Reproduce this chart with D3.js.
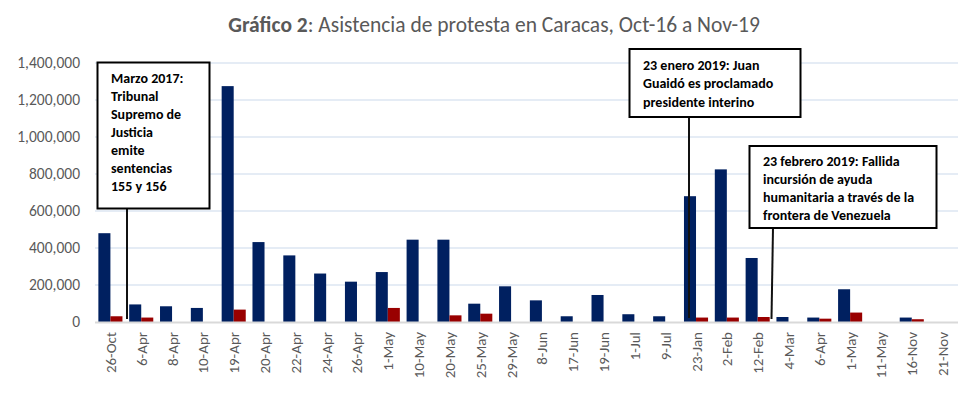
<!DOCTYPE html>
<html>
<head>
<meta charset="utf-8">
<script src="https://cdn.jsdelivr.net/npm/d3@7"></script>
<style>
  body { margin: 0; background: #fff; }
  svg { display: block; font-family: Carlito, Lato, "Open Sans", sans-serif; }
</style>
</head>
<body>
<svg id="chart" width="978" height="396"></svg>
<script>
// categories (dates as shown on the axis)
var fechas = ["26-Oct", "6-Apr", "8-Apr", "10-Apr", "19-Apr", "20-Apr", "22-Apr", "24-Apr", "26-Apr",
  "1-May", "10-May", "20-May", "25-May", "29-May", "8-Jun", "17-Jun", "19-Jun", "1-Jul", "9-Jul",
  "23-Jan", "2-Feb", "12-Feb", "4-Mar", "6-Apr", "1-May", "11-May", "16-Nov", "21-Nov"];

// series 1 (navy) and series 2 (dark red)
var serieAzul = [480000, 95000, 85000, 76000, 1275000, 432000, 360000, 262000, 218000,
  270000, 445000, 445000, 99000, 193000, 117000, 31000, 146000, 42000, 31000,
  680000, 825000, 346000, 27000, 24000, 177000, 0, 24000, 0];
var serieRoja = [31000, 24000, 0, 0, 67000, 0, 0, 0, 0,
  76000, 0, 36000, 45000, 0, 0, 0, 0, 0, 0,
  24000, 24000, 27000, 0, 18000, 51000, 0, 15000, 0];

var yTicks = [0, 200000, 400000, 600000, 800000, 1000000, 1200000, 1400000];

var notas = [
  { idx: 1, lines: ["Marzo 2017:", "Tribunal", "Supremo de", "Justicia", "emite", "sentencias", "155 y 156"] },
  { idx: 19, lines: ["23 enero 2019: Juan", "Guaidó es proclamado", "presidente interino"] },
  { idx: 21, lines: ["23 febrero 2019: Fallida", "incursión de ayuda", "humanitaria a través de la", "frontera de Venezuela"] }
];

var svg = d3.select("#chart");

var x0 = d3.scaleBand().domain(d3.range(fechas.length)).range([95, 958]).padding(0);
var x1 = d3.scaleBand().domain(["a", "r"]).range([0, x0.bandwidth()]).paddingInner(0).paddingOuter(0.28);
var y = d3.scaleLinear().domain([0, 1400000]).range([322, 63]);

// title
var title = svg.append("text").attr("x", 494).attr("y", 32).attr("text-anchor", "middle")
  .attr("font-size", 21.5).attr("fill", "#595959");
title.append("tspan").attr("font-weight", "bold").text("Gráfico 2");
title.append("tspan").text(": Asistencia de protesta en Caracas, Oct-16 a Nov-19");

// grid
svg.append("g").selectAll("line").data(yTicks.slice(1)).enter().append("line")
  .attr("x1", 95).attr("x2", 958)
  .attr("y1", function(d) { return y(d); }).attr("y2", function(d) { return y(d); })
  .attr("stroke", "#dce6f2").attr("stroke-width", 1.5);

// y axis
var yAxis = svg.append("g").attr("transform", "translate(80,0)")
  .call(d3.axisLeft(y).tickValues(yTicks).tickSize(0).tickPadding(0).tickFormat(d3.format(",")));
yAxis.select(".domain").remove();
yAxis.selectAll("text").attr("font-size", 15.5).attr("fill", "#595959").attr("font-family", "Carlito, Lato, sans-serif");

// bars
var grupos = svg.append("g").selectAll("g").data(fechas).enter().append("g")
  .attr("transform", function(d, i) { return "translate(" + x0(i) + ",0)"; });
grupos.append("rect")
  .attr("x", x1("a")).attr("width", x1.bandwidth())
  .attr("y", function(d, i) { return y(serieAzul[i]); })
  .attr("height", function(d, i) { return y(0) - y(serieAzul[i]); })
  .attr("fill", "#002060");
grupos.append("rect")
  .attr("x", x1("r")).attr("width", x1.bandwidth())
  .attr("y", function(d, i) { return y(serieRoja[i]); })
  .attr("height", function(d, i) { return y(0) - y(serieRoja[i]); })
  .attr("fill", "#990000");

// x axis
svg.append("line").attr("x1", 95).attr("x2", 958).attr("y1", 322.5).attr("y2", 322.5)
  .attr("stroke", "#d9d9d9").attr("stroke-width", 2);
svg.append("g").selectAll("text").data(fechas).enter().append("text")
  .attr("transform", function(d, i) { return "translate(" + (x0(i) + x0.bandwidth() / 2 + 5.5) + ",332) rotate(-90)"; })
  .attr("text-anchor", "end").attr("font-size", 15).attr("fill", "#595959")
  .text(function(d) { return d; });

// annotations
var cajas = [
  { x: 97.5, y: 62.5, w: 112, h: 146, tx: 111, ty: 83, dy: 18, lx1: 127, ly1: 208, lx2: 127, ly2: 319 },
  { x: 629.5, y: 49, w: 171, h: 68, tx: 643, ty: 70, dy: 18.4, lx1: 689, ly1: 117, lx2: 689, ly2: 318 },
  { x: 749.5, y: 146, w: 187, h: 82, tx: 763, ty: 166, dy: 18, lx1: 773, ly1: 228, lx2: 771.5, ly2: 319 }
];
notas.forEach(function(n, k) {
  var c = cajas[k];
  svg.append("line").attr("x1", c.lx1).attr("y1", c.ly1).attr("x2", c.lx2).attr("y2", c.ly2)
    .attr("stroke", "#111").attr("stroke-width", 2);
  svg.append("rect").attr("x", c.x).attr("y", c.y).attr("width", c.w).attr("height", c.h)
    .attr("fill", "#fff").attr("stroke", "#000").attr("stroke-width", 2);
  var t = svg.append("text").attr("font-size", 14).attr("font-weight", "bold").attr("fill", "#000");
  n.lines.forEach(function(l, j) {
    t.append("tspan").attr("x", c.tx).attr("y", c.ty + j * c.dy).text(l);
  });
});
</script>
</body>
</html>
